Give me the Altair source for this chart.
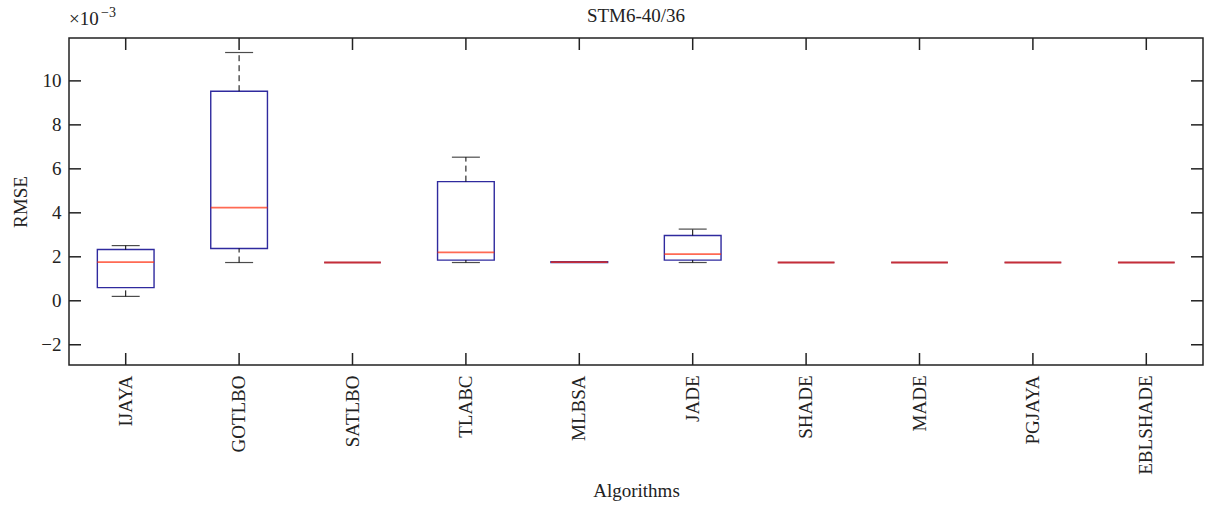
import altair as alt
import pandas as pd

algorithms = ["IJAYA", "GOTLBO", "SATLBO", "TLABC", "MLBSA", "JADE",
              "SHADE", "MADE", "PGJAYA", "EBLSHADE"]
lower_whisker = [0.20, 1.74, 1.74, 1.74, 1.74, 1.74, 1.74, 1.74, 1.74, 1.74]
q1 = [0.60, 2.38, 1.74, 1.85, 1.74, 1.85, 1.74, 1.74, 1.74, 1.74]
median = [1.76, 4.24, 1.74, 2.20, 1.76, 2.12, 1.74, 1.74, 1.74, 1.74]
q3 = [2.33, 9.53, 1.74, 5.42, 1.78, 2.97, 1.74, 1.74, 1.74, 1.74]
upper_whisker = [2.51, 11.29, 1.74, 6.53, 1.78, 3.26, 1.74, 1.74, 1.74, 1.74]
ytick_values = [-2, 0, 2, 4, 6, 8, 10]
title_text = "STM6-40/36"

W, H = 1134, 327
FONT = "Liberation Serif"
BOX = "#2f2a9e"
MED = "#ff3010"

df = pd.DataFrame({
    "alg": algorithms, "lo": lower_whisker, "q1": q1, "med": median,
    "q3": q3, "hi": upper_whisker,
})
yt = pd.DataFrame({"v": ytick_values})
xt = pd.DataFrame({"alg": algorithms})

xscale = alt.Scale(type="band", domain=algorithms, paddingInner=0, paddingOuter=0)
yscale = alt.Scale(domain=[-2.92, 11.95], nice=False, zero=False)

X = alt.X("alg:N", scale=xscale, sort=algorithms, title="Algorithms",
          axis=alt.Axis(labelAngle=-90, labelAlign="right", labelBaseline="middle",
                        labelPadding=10, ticks=False, domain=False, titlePadding=7))
Xn = alt.X("alg:N", scale=xscale, sort=algorithms)
Y = alt.Y("q1:Q", scale=yscale, title="RMSE",
          axis=alt.Axis(values=ytick_values, ticks=False, domain=False, labelPadding=8,
                        titlePadding=10, grid=False))

base = alt.Chart(df)

whisk_up = base.transform_filter("datum.hi > datum.q3").mark_rule(
    color="black", strokeWidth=1, strokeDash=[6, 4]).encode(
    x=Xn, y=alt.Y("q3:Q", scale=yscale), y2="hi:Q")
whisk_lo = base.transform_filter("datum.lo < datum.q1").mark_rule(
    color="black", strokeWidth=1, strokeDash=[6, 4]).encode(
    x=Xn, y=alt.Y("lo:Q", scale=yscale), y2="q1:Q")
cap_up = base.transform_filter("datum.hi > datum.q3").mark_tick(
    color="black", size=28, thickness=1.2).encode(x=Xn, y=alt.Y("hi:Q", scale=yscale))
cap_lo = base.transform_filter("datum.lo < datum.q1").mark_tick(
    color="black", size=28, thickness=1.2).encode(x=Xn, y=alt.Y("lo:Q", scale=yscale))
box = base.mark_bar(width=alt.RelativeBandSize(0.5), fill="white", stroke=BOX,
                    strokeWidth=1.4).encode(x=X, y=Y, y2="q3:Q")
med = base.mark_tick(color=MED, size=56.7, thickness=1.8, opacity=0.72).encode(
    x=Xn, y=alt.Y("med:Q", scale=yscale))

tick_l = alt.Chart(yt).mark_rule(color="#222", strokeWidth=1.5).encode(
    y=alt.Y("v:Q", scale=yscale), x=alt.value(0), x2=alt.value(12))
tick_r = alt.Chart(yt).mark_rule(color="#222", strokeWidth=1.5).encode(
    y=alt.Y("v:Q", scale=yscale), x=alt.value(W - 12), x2=alt.value(W))
tick_b = alt.Chart(xt).mark_rule(color="#222", strokeWidth=1.5).encode(
    x=Xn, y=alt.value(H - 12), y2=alt.value(H))
tick_t = alt.Chart(xt).mark_rule(color="#222", strokeWidth=1.5).encode(
    x=Xn, y=alt.value(0), y2=alt.value(12))

exp_main = alt.Chart(pd.DataFrame({"t": ["×10"]})).mark_text(
    font=FONT, fontSize=19, align="left", baseline="alphabetic", color="#222").encode(
    text="t:N", x=alt.value(0), y=alt.value(-13))
exp_sup = alt.Chart(pd.DataFrame({"t": ["−3"]})).mark_text(
    font=FONT, fontSize=14, align="left", baseline="alphabetic", color="#222").encode(
    text="t:N", x=alt.value(32), y=alt.value(-21))
title_mark = alt.Chart(pd.DataFrame({"t": [title_text]})).mark_text(
    font=FONT, fontSize=19, align="center", baseline="alphabetic", color="#222").encode(
    text="t:N", x=alt.value(W / 2), y=alt.value(-16))

chart = alt.layer(
    box, whisk_up, whisk_lo, cap_up, cap_lo, med,
    tick_l, tick_r, tick_b, tick_t, exp_main, exp_sup, title_mark,
).properties(
    width=W, height=H,
    autosize=alt.AutoSizeParams(type="none"),
    padding={"left": 69, "top": 38, "right": 4, "bottom": 141},
    background="white",
).configure_view(
    stroke="#222", strokeWidth=1.5
).configure_axis(
    labelFont=FONT, titleFont=FONT, labelFontSize=19, titleFontSize=19,
    labelColor="#222", titleColor="#222", titleFontWeight="normal",
)

chart.save("out.html", embed_options={"renderer": "svg", "actions": False})
